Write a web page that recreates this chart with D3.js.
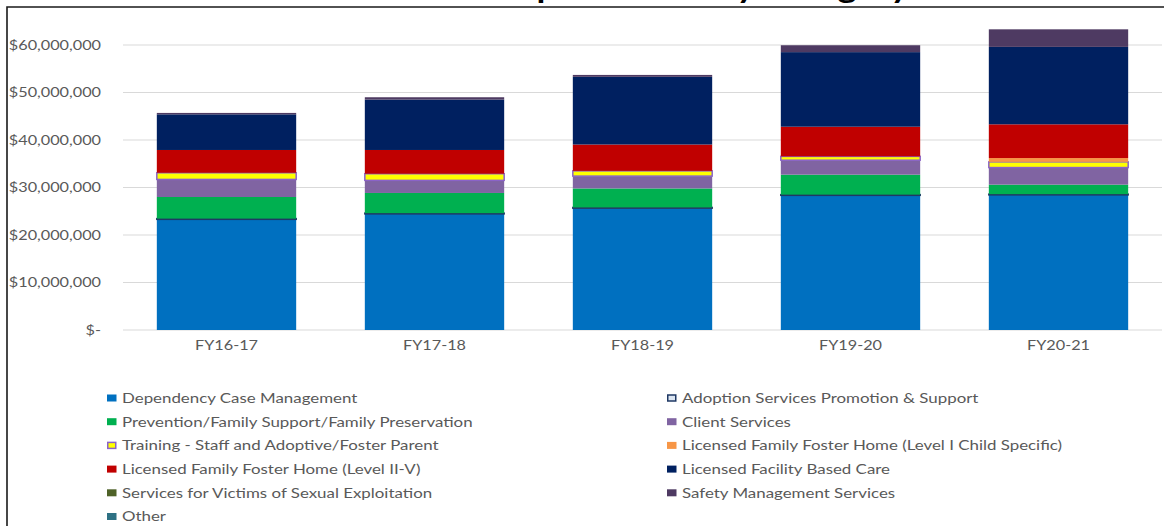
<!DOCTYPE html>
<html>
<head>
<meta charset="utf-8">
<script src="https://cdn.jsdelivr.net/npm/d3@7"></script>
<style>
  html, body { margin: 0; padding: 0; background: #ffffff; }
  svg { display: block; }
  text { font-family: Lato, "Open Sans", "Liberation Sans", sans-serif; }
</style>
</head>
<body>
<svg id="chart" width="1164" height="526"></svg>
<script>
// Fiscal years on the x axis
const years = ["FY16-17", "FY17-18", "FY18-19", "FY19-20", "FY20-21"];

// Expenditure categories, bottom of the stack first
const categories = [
  "Dependency Case Management",
  "Adoption Services Promotion & Support",
  "Prevention/Family Support/Family Preservation",
  "Client Services",
  "Training - Staff and Adoptive/Foster Parent",
  "Licensed Family Foster Home (Level I Child Specific)",
  "Licensed Family Foster Home (Level II-V)",
  "Licensed Facility Based Care",
  "Services for Victims of Sexual Exploitation",
  "Safety Management Services",
  "Other"
];

// Spending per category, in dollars, one value per fiscal year
const dependencyCaseMgmt = [23300000, 24450000, 25650000, 28350000, 28450000];
const adoptionServices   = [  150000,   150000,   150000,   150000,   150000];
const prevention         = [ 4550000,  4250000,  4000000,  4200000,  2000000];
const clientServices     = [ 3700000,  2650000,  2600000,  3050000,  3600000];
const training           = [ 1400000,  1400000,  1100000,   800000,  1200000];
const fosterLevelI       = [       0,        0,        0,        0,   800000];
const fosterLevelIIV     = [ 4800000,  5000000,  5550000,  6250000,  7100000];
const facilityCare       = [ 7500000, 10600000, 14250000, 15700000, 16300000];
const victimsServices    = [       0,        0,        0,        0,        0];
const safetyMgmt         = [  300000,   500000,   400000,  1450000,  3700000];
const otherSpending      = [       0,        0,        0,        0,        0];

// Y axis ticks
const yTicks = [0, 10000000, 20000000, 30000000, 40000000, 50000000, 60000000];

const seriesValues = [
  dependencyCaseMgmt, adoptionServices, prevention, clientServices, training,
  fosterLevelI, fosterLevelIIV, facilityCare, victimsServices, safetyMgmt, otherSpending
];

const fills   = ["#0070C0", "#DCE6F2", "#00B050", "#8064A2", "#FFFF00", "#F79646",
                 "#C00000", "#002060", "#4F6228", "#4E3A62", "#2E7184"];
const strokes = [null, "#1F3864", null, null, "#8A63C8", null, null, null, null, null, null];

// Rows for d3.stack
const rows = years.map((y, i) => {
  const r = { year: y };
  categories.forEach((c, k) => { r[c] = seriesValues[k][i]; });
  return r;
});

const svg = d3.select("#chart");

// Widen text horizontally by a factor, keeping its anchor
function stretch(sel, factor) {
  sel.each(function () {
    const w = this.getComputedTextLength();
    d3.select(this).attr("textLength", w * factor).attr("lengthAdjust", "spacingAndGlyphs");
  });
}

// Title (runs above the frame's top edge)
const title = svg.append("text")
  .attr("x", 497).attr("y", -2)
  .attr("font-size", 30).attr("font-weight", 700).attr("fill", "#000")
  .text("Expenditures by Category");
stretch(title, 1.2);

// Frame
svg.append("path")
  .attr("d", "M7,526 L7,7 L1164,7")
  .attr("fill", "none").attr("stroke", "#1a1a1a").attr("stroke-width", 1.6);

const x = d3.scaleBand().domain(years).range([122.5, 1162.5])
  .paddingInner(0.33).paddingOuter(0.165);
const y = d3.scaleLinear().domain([0, 60000000]).range([330, 45]);

// Gridlines
svg.append("g").selectAll("line").data(yTicks).join("line")
  .attr("x1", 123).attr("x2", 1162)
  .attr("y1", d => y(d)).attr("y2", d => y(d))
  .attr("stroke", "#D9D9D9").attr("stroke-width", 1.2);

// Y axis labels
const money = d3.format("$,.0f");
const yAxis = svg.append("g").attr("transform", "translate(101,0)")
  .call(d3.axisLeft(y).tickValues(yTicks).tickSize(0).tickPadding(0)
    .tickFormat(d => d === 0 ? "$-" : money(d)));
yAxis.select(".domain").remove();
yAxis.selectAll("text")
  .attr("font-family", "Lato, 'Open Sans', sans-serif")
  .attr("font-size", 12.5).attr("fill", "#595959");
stretch(yAxis.selectAll("text"), 1.3);

// X axis labels
const xAxis = svg.append("g").attr("transform", "translate(0,341)")
  .call(d3.axisBottom(x).tickSize(0).tickPadding(0));
xAxis.select(".domain").remove();
xAxis.selectAll("text")
  .attr("font-family", "Lato, 'Open Sans', sans-serif")
  .attr("font-size", 12.5).attr("fill", "#595959");
stretch(xAxis.selectAll("text"), 1.3);

// Stacked bars
const stacked = d3.stack().keys(categories)(rows);
const layers = svg.append("g").selectAll("g").data(stacked).join("g")
  .attr("fill", (d, i) => fills[i])
  .attr("stroke", (d, i) => strokes[i])
  .attr("stroke-width", (d, i) => strokes[i] ? 1.5 : null);

layers.selectAll("rect")
  .data(d => d.map(p => ({ p, year: p.data.year })))
  .join("rect")
  .attr("x", d => x(d.year))
  .attr("width", x.bandwidth())
  .attr("y", d => y(d.p[1]))
  .attr("height", d => Math.max(0, y(d.p[0]) - y(d.p[1])))
  .attr("display", d => d.p[1] - d.p[0] > 0 ? null : "none");

// Legend: two columns
const legendLeftX = 107, legendRightX = 667, legendTop = 398, rowGap = 23.7;
const legend = svg.append("g");
const items = legend.selectAll("g").data(categories).join("g")
  .attr("transform", (d, i) => {
    const col = i % 2, row = Math.floor(i / 2);
    return `translate(${col ? legendRightX : legendLeftX},${legendTop + row * rowGap})`;
  });
items.append("rect")
  .attr("x", (d, i) => strokes[i] ? 0.75 : 0)
  .attr("y", (d, i) => strokes[i] ? -3 : -3.5)
  .attr("width", (d, i) => strokes[i] ? 8 : 9.5)
  .attr("height", (d, i) => strokes[i] ? 6 : 7)
  .attr("fill", (d, i) => fills[i])
  .attr("stroke", (d, i) => strokes[i])
  .attr("stroke-width", (d, i) => strokes[i] ? 1.5 : null);
const labels = items.append("text")
  .attr("x", 15).attr("y", 0).attr("dy", "0.36em")
  .attr("font-size", 13.5).attr("fill", "#595959")
  .text(d => d);
stretch(labels, 1.25);
</script>
</body>
</html>
